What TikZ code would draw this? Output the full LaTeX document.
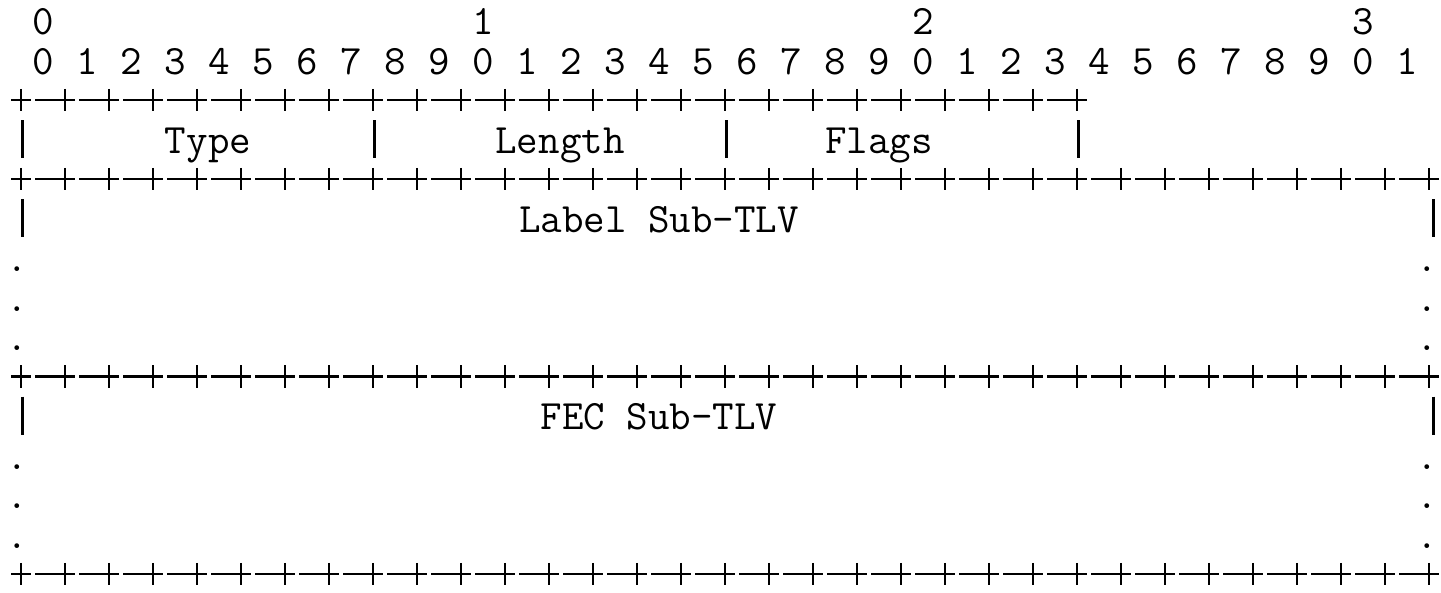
\documentclass[tikz,border=0pt]{standalone}
\begin{document}
\begin{tikzpicture}[
    x=11pt, y=-19.75pt,
    every node/.style={inner sep=0pt, anchor=base, font=\fontsize{20.9}{25}\selectfont\ttfamily},
    rule/.style={line width=1.3pt},
    bar/.style={line width=1.4pt}
    ]
    \useasboundingbox (-0.9545,-0.5316) rectangle (64.545,14.456);
    % bit numbers
    \node (tens0) at (1,0.35) {0};
    \node (tens1) at (21,0.35) {1};
    \node (tens2) at (41,0.35) {2};
    \node (tens3) at (61,0.35) {3};
    \foreach \bitno in {0,...,31} {
      \pgfmathtruncatemacro{\digit}{mod(\bitno,10)}
      \node (bit\bitno) at (2*\bitno+1,1.35) {\digit};
    }
    % +-+-+ rows
    \foreach \rowno/\nbits in {2/24,4/32,9/32,14/32} {
      \coordinate (rule\rowno) at (0,\rowno);
      \draw[rule] ([xshift=-0.45*11pt]rule\rowno) -- ([xshift=0.45*11pt]rule\rowno);
      \draw[rule] ([yshift=0.28*19.75pt]rule\rowno) -- ([yshift=-0.28*19.75pt]rule\rowno);
      \foreach \bitno in {1,...,\nbits} {
        \draw[rule] (2*\bitno-1.35,\rowno) -- (2*\bitno+0.45,\rowno);
        \draw[rule] (2*\bitno,\rowno-0.28) -- (2*\bitno,\rowno+0.28);
      }
    }
    % field borders
    \foreach \col in {0,16,32,48}
      \draw[bar] (\col+0.08,2.51) -- (\col+0.08,3.47);
    \foreach \rowno in {5,10} {
      \draw[bar] (0.08,\rowno-0.49) -- (0.08,\rowno+0.47);
      \draw[bar] (64.2,\rowno-0.49) -- (64.2,\rowno+0.47);
    }
    \foreach \rowno in {6,7,8,11,12,13} {
      \node (dotl\rowno) at (-0.15,\rowno+0.35) {.};
      \node (dotr\rowno) at (63.9,\rowno+0.35) {.};
    }
    % field names
    \node (type) at (8.5,3.35) {Type};
    \node (length) at (24.5,3.35) {Length};
    \node (flags) at (39,3.35) {Flags};
    \node (label) at (29,5.35) {Label Sub-TLV};
    \node (fec) at (29,10.35) {FEC Sub-TLV};
\end{tikzpicture}
\end{document}
